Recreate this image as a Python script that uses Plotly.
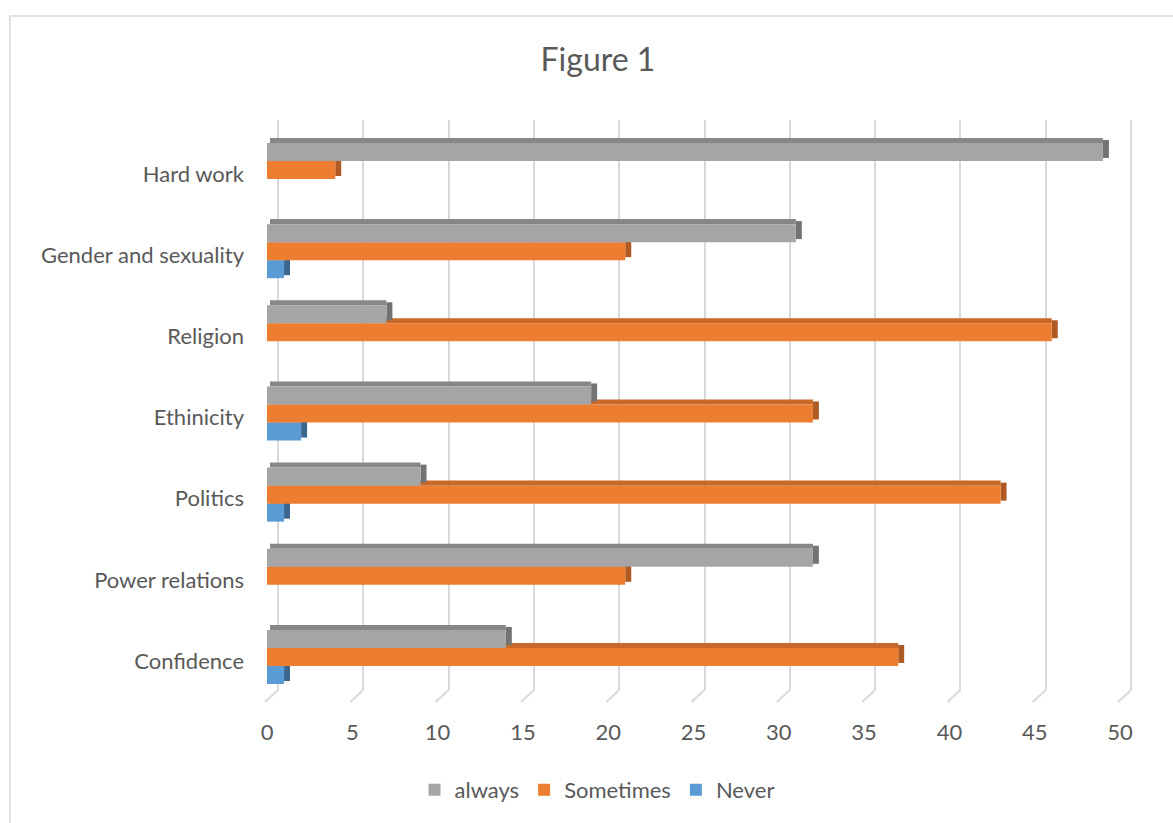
import plotly.graph_objects as go

categories = ["Confidence", "Power relations", "Politics", "Ethinicity",
              "Religion", "Gender and sexuality", "Hard work"]
always = [14, 32, 9, 19, 7, 31, 49]
sometimes = [37, 21, 43, 32, 46, 21, 4]
never = [1, 0, 1, 2, 0, 1, 0]
x_ticks = list(range(0, 51, 5))

pos = list(range(len(categories)))

FONT = "Lato"
TXT = "#595959"

series = [  # drawn bottom series first so upper front faces cover lower top faces
    ("Never", never, "#5b9bd5", "#4a7eb0", "#3b6690", -0.222, 3),
    ("Sometimes", sometimes, "#ed7d31", "#c8692a", "#ae5a22", 0.0, 2),
    ("always", always, "#a5a5a5", "#878787", "#737373", 0.222, 1),
]

TH = 0.222   # bar thickness (category units)
DX = 0.35    # depth in value units
DY = 0.062   # depth in category units

fig = go.Figure()

# invisible trace to activate the back-wall grid axis
fig.add_trace(go.Scatter(x=[0], y=[0], mode="markers", marker=dict(opacity=0),
                         hoverinfo="skip", showlegend=False, xaxis="x", yaxis="y"))

for name, vals, col, topc, capc, off, rank in series:
    lo = off - TH / 2
    # top face
    fig.add_trace(go.Bar(
        y=pos, x=[v - DX / 2 if v > 0 else None for v in vals],
        base=[DX / 2] * len(vals), orientation="h",
        width=DY, offset=lo + TH, marker=dict(color=topc, line=dict(width=0)),
        showlegend=False, hoverinfo="skip", xaxis="x2", yaxis="y"))
    # side cap
    fig.add_trace(go.Bar(
        y=pos, x=[DX if v > 0 else None for v in vals],
        base=vals, orientation="h",
        width=TH, offset=lo + DY * 0.6, marker=dict(color=capc, line=dict(width=0)),
        showlegend=False, hoverinfo="skip", xaxis="x2", yaxis="y"))
    # front face
    fig.add_trace(go.Bar(
        y=pos, x=vals, orientation="h", name=name,
        width=TH, offset=lo, marker=dict(color=col, line=dict(width=0)),
        legendrank=rank, xaxis="x2", yaxis="y"))

PX_PER_UNIT = 17.06
L, R = 263, 1138
W = R - L
TOP, BOT = 120, 690
H = BOT - TOP
r0_bar = -4.0 / PX_PER_UNIT
r0_grid = -15.0 / PX_PER_UNIT
shift = 13.0 / PX_PER_UNIT

# floor diagonals from back-wall grid to front
floor = [dict(type="line", xref="x", yref="paper",
              x0=t, y0=0, x1=t - shift, y1=-12 / H,
              line=dict(color="#d9d9d9", width=2), layer="below") for t in x_ticks]

fig.update_layout(
    width=1173, height=823,
    margin=dict(l=L, r=1173 - R, t=TOP, b=823 - BOT),
    paper_bgcolor="white", plot_bgcolor="white",
    barmode="overlay",
    font=dict(family=FONT, color=TXT, size=22),
    title=dict(text="Figure 1", x=598 / 1173, xref="container", xanchor="center",
               y=1 - 60 / 823, yref="container", yanchor="middle",
               font=dict(size=32, color=TXT, family=FONT)),
    xaxis=dict(range=[r0_grid, r0_grid + W / PX_PER_UNIT], tickvals=x_ticks,
               showticklabels=False, showgrid=True, gridcolor="#d9d9d9", gridwidth=2,
               zeroline=False, showline=False, fixedrange=True),
    xaxis2=dict(range=[r0_bar, r0_bar + W / PX_PER_UNIT], tickvals=x_ticks,
                overlaying="x", side="bottom", anchor="y",
                showgrid=False, zeroline=False, showline=False,
                ticks="", ticklabelstandoff=27,
                tickfont=dict(size=22, color=TXT, family=FONT)),
    yaxis=dict(range=[-0.407, 6.616], tickvals=[p - 0.05 for p in pos],
               ticktext=categories, showgrid=False, zeroline=False, showline=False,
               ticks="", ticklabelstandoff=18,
               tickfont=dict(size=22, color=TXT, family=FONT)),
    legend=dict(orientation="h", x=(597 - L) / W, xanchor="center",
                y=(BOT - 790) / H, yanchor="middle",
                font=dict(size=22, color=TXT, family=FONT),
                itemwidth=30, traceorder="normal"),
    showlegend=True,
    shapes=floor + [dict(type="rect", xref="paper", yref="paper",
                 x0=(10 - L) / W, x1=(1200 - L) / W,
                 y0=(BOT - 850) / H, y1=(BOT - 16) / H,
                 line=dict(color="#d9d9d9", width=1.5), fillcolor="rgba(0,0,0,0)",
                 layer="below")],
)

fig.write_html("out.html")
